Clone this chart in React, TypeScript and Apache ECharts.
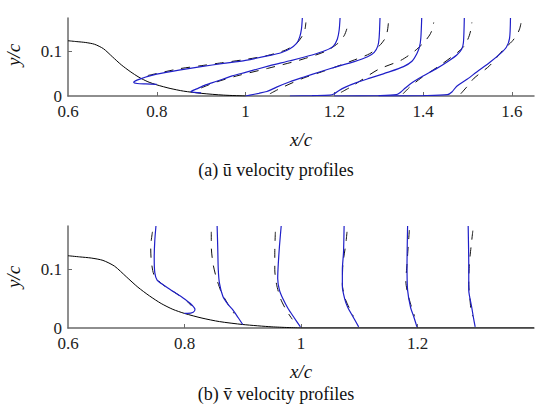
import React, { useEffect, useRef } from "react";
import * as echarts from "echarts";

// Hump surface y/c against x/c
const hump: number[][] = [
  [0.6, 0.124], [0.62, 0.122], [0.64, 0.12], [0.66, 0.116], [0.68, 0.106],
  [0.7, 0.088], [0.72, 0.07], [0.74, 0.055], [0.76, 0.042], [0.78, 0.032],
  [0.8, 0.025], [0.83, 0.017], [0.86, 0.011], [0.9, 0.006], [0.95, 0.002], [1.0, 0.0],
];
const wallDownstream: number[][] = [[1.0, 0.0], [1.4, 0.0]];

// Mean streamwise velocity profiles (offset by station), simulation
const uSim08: number[][] = [
  [0.8, 0.026], [0.775, 0.027], [0.756, 0.028], [0.748, 0.031], [0.752, 0.034],
  [0.765, 0.039], [0.78, 0.044], [0.8, 0.049], [0.85, 0.058], [0.9, 0.066],
  [0.95, 0.073], [1.0, 0.08], [1.055, 0.091], [1.08, 0.097], [1.1, 0.106],
  [1.115, 0.118], [1.122, 0.132], [1.126, 0.15], [1.128, 0.175],
];
const uSim09: number[][] = [
  [0.9, 0.007], [0.885, 0.008], [0.877, 0.01], [0.89, 0.016], [0.91, 0.025],
  [0.935, 0.033], [0.97, 0.045], [1.0, 0.053], [1.055, 0.068], [1.1, 0.079],
  [1.15, 0.092], [1.18, 0.102], [1.198, 0.112], [1.207, 0.128], [1.211, 0.148], [1.213, 0.175],
];
const uSim10: number[][] = [
  [1.0, 0.0], [1.01, 0.002], [1.03, 0.006], [1.048, 0.01], [1.07, 0.02], [1.1, 0.032],
  [1.13, 0.042], [1.17, 0.055], [1.206, 0.066], [1.245, 0.077], [1.275, 0.088],
  [1.29, 0.098], [1.298, 0.112], [1.301, 0.13], [1.303, 0.175],
];
const uSim11: number[][] = [
  [1.1, 0.0], [1.15, 0.001], [1.19, 0.002], [1.2, 0.005], [1.21, 0.012], [1.225, 0.02],
  [1.25, 0.03], [1.28, 0.04], [1.32, 0.053], [1.356, 0.066], [1.375, 0.078],
  [1.386, 0.095], [1.392, 0.11], [1.395, 0.13], [1.397, 0.175],
];
const uSim12: number[][] = [
  [1.2, 0.0], [1.3, 0.001], [1.34, 0.003], [1.35, 0.009], [1.36, 0.018], [1.375, 0.03],
  [1.4, 0.045], [1.431, 0.062], [1.455, 0.077], [1.476, 0.092], [1.487, 0.105],
  [1.491, 0.12], [1.493, 0.175],
];
const uSim13: number[][] = [
  [1.3, 0.0], [1.4, 0.001], [1.455, 0.003], [1.465, 0.009], [1.476, 0.022], [1.5, 0.038],
  [1.521, 0.054], [1.55, 0.075], [1.574, 0.095], [1.588, 0.11], [1.595, 0.13], [1.597, 0.175],
];

// Mean streamwise velocity profiles, measurement
const uExp08: number[][] = [
  [0.78, 0.046], [0.85, 0.061], [0.9, 0.068], [0.95, 0.075], [1.0, 0.082], [1.05, 0.091],
  [1.09, 0.103], [1.115, 0.118], [1.128, 0.135], [1.134, 0.15], [1.136, 0.165],
];
const uExp09: number[][] = [
  [0.9, 0.018], [0.93, 0.03], [0.98, 0.045], [1.05, 0.062], [1.12, 0.08], [1.18, 0.1],
  [1.208, 0.118], [1.222, 0.135], [1.228, 0.15], [1.23, 0.165],
];
const uExp10: number[][] = [
  [1.055, 0.005], [1.08, 0.018], [1.13, 0.04], [1.18, 0.057], [1.24, 0.079], [1.28, 0.095],
  [1.302, 0.113], [1.315, 0.13], [1.32, 0.148], [1.322, 0.165],
];
const uExp11: number[][] = [
  [1.215, 0.008], [1.24, 0.022], [1.26, 0.035], [1.3, 0.06], [1.35, 0.08], [1.38, 0.1],
  [1.402, 0.12], [1.415, 0.137], [1.421, 0.15], [1.424, 0.165],
];
const uExp12: number[][] = [
  [1.355, 0.005], [1.37, 0.02], [1.395, 0.04], [1.44, 0.07], [1.478, 0.098], [1.495, 0.115],
  [1.504, 0.135], [1.508, 0.15], [1.51, 0.165],
];
const uExp13: number[][] = [
  [1.485, 0.005], [1.5, 0.022], [1.515, 0.04], [1.55, 0.068], [1.58, 0.103], [1.6, 0.122],
  [1.612, 0.138], [1.618, 0.152], [1.621, 0.165],
];

// Mean wall-normal velocity profiles, simulation
const vSim08: number[][] = [
  [0.751, 0.175], [0.749, 0.15], [0.748, 0.12], [0.749, 0.095], [0.753, 0.082],
  [0.765, 0.073], [0.78, 0.063], [0.797, 0.052], [0.81, 0.042], [0.818, 0.032],
  [0.815, 0.027], [0.805, 0.025], [0.8, 0.025],
];
const vSim09: number[][] = [
  [0.856, 0.175], [0.857, 0.14], [0.858, 0.1], [0.86, 0.077], [0.866, 0.054],
  [0.875, 0.04], [0.883, 0.031], [0.892, 0.018], [0.9, 0.006],
];
const vSim10: number[][] = [
  [0.966, 0.175], [0.963, 0.14], [0.961, 0.11], [0.96, 0.085], [0.963, 0.065],
  [0.969, 0.05], [0.978, 0.033], [0.988, 0.018], [0.999, 0.002],
];
const vSim11: number[][] = [
  [1.074, 0.175], [1.073, 0.13], [1.071, 0.1], [1.071, 0.071], [1.075, 0.05],
  [1.08, 0.036], [1.09, 0.018], [1.099, 0.002],
];
const vSim12: number[][] = [
  [1.183, 0.175], [1.182, 0.106], [1.183, 0.065], [1.188, 0.036], [1.194, 0.018], [1.199, 0.002],
];
const vSim13: number[][] = [
  [1.287, 0.175], [1.288, 0.106], [1.288, 0.065], [1.293, 0.036], [1.296, 0.018], [1.299, 0.002],
];

// Mean wall-normal velocity profiles, measurement
const vExp08: number[][] = [
  [0.745, 0.165], [0.742, 0.14], [0.743, 0.115], [0.748, 0.09], [0.762, 0.075],
  [0.78, 0.063], [0.8, 0.05], [0.812, 0.038],
];
const vExp09: number[][] = [
  [0.846, 0.165], [0.846, 0.14], [0.849, 0.11], [0.855, 0.085], [0.863, 0.062],
  [0.874, 0.042], [0.885, 0.025],
];
const vExp10: number[][] = [
  [0.956, 0.165], [0.955, 0.13], [0.955, 0.1], [0.958, 0.075], [0.965, 0.05],
  [0.975, 0.03], [0.985, 0.015],
];
const vExp11: number[][] = [
  [1.079, 0.165], [1.077, 0.145], [1.072, 0.11], [1.071, 0.075], [1.076, 0.05],
  [1.085, 0.03], [1.09, 0.02],
];
const vExp12: number[][] = [
  [1.186, 0.168], [1.184, 0.14], [1.182, 0.11], [1.18, 0.08], [1.183, 0.06],
  [1.19, 0.035], [1.195, 0.02],
];
const vExp13: number[][] = [
  [1.295, 0.167], [1.292, 0.14], [1.289, 0.11], [1.288, 0.075], [1.29, 0.05],
  [1.292, 0.03], [1.295, 0.02],
];

// Axis ticks and labels
const uTickX = [0.8, 1, 1.2, 1.4, 1.6];
const uLabelX = [0.6, 0.8, 1, 1.2, 1.4, 1.6];
const vTickX = [0.8, 1, 1.2];
const vLabelX = [0.6, 0.8, 1, 1.2];
const tickY = [0.1];
const labelY = [0, 0.1];

const SERIF = "'Liberation Serif', 'Times New Roman', serif";
const BLUE = "#1f1fc8";
const AXIS = "#6a6a6a";

const fmt = (v: number) => String(+Number(v).toFixed(3));

function xAxisCfg(grid: number, min: number, max: number, ticks: number[], labels: number[]) {
  return {
    type: "value",
    gridIndex: grid,
    min,
    max,
    axisLine: { show: true, onZero: false, lineStyle: { color: AXIS, width: 1.5 } },
    axisTick: { show: true, inside: true, length: 4, customValues: ticks, lineStyle: { color: AXIS, width: 1 } },
    axisLabel: {
      customValues: labels, formatter: fmt, margin: 9, lineHeight: 13,
      fontFamily: SERIF, fontSize: 17, color: "#222",
    },
    splitLine: { show: false },
  };
}

function yAxisCfg(grid: number) {
  return {
    type: "value",
    gridIndex: grid,
    min: 0,
    max: 0.175,
    axisLine: { show: true, onZero: false, lineStyle: { color: AXIS, width: 1.5 } },
    axisTick: { show: true, inside: true, length: 4, customValues: tickY, lineStyle: { color: AXIS, width: 1 } },
    axisLabel: {
      customValues: labelY, formatter: fmt, margin: 6, lineHeight: 13,
      fontFamily: SERIF, fontSize: 17, color: "#222",
    },
    splitLine: { show: false },
  };
}

function line(data: number[][], grid: number, color: string, dashed: boolean, width: number) {
  return {
    type: "line",
    xAxisIndex: grid,
    yAxisIndex: grid,
    data,
    showSymbol: false,
    symbol: "none",
    smooth: 0.25,
    silent: true,
    clip: true,
    lineStyle: { color, width, type: dashed ? [9, 8] : "solid" },
  };
}

export default function App() {
  const ref = useRef<HTMLDivElement>(null);

  useEffect(() => {
    if (!ref.current) return;
    const chart = echarts.init(ref.current, undefined, { renderer: "svg" });

    const uSims = [uSim08, uSim09, uSim10, uSim11, uSim12, uSim13];
    const uExps = [uExp08, uExp09, uExp10, uExp11, uExp12, uExp13];
    const vSims = [vSim08, vSim09, vSim10, vSim11, vSim12, vSim13];
    const vExps = [vExp08, vExp09, vExp10, vExp11, vExp12, vExp13];

    const series: any[] = [
      line(hump, 0, "#000", false, 1),
      line(hump, 1, "#000", false, 1),
      line(wallDownstream, 1, "#000", false, 1.2),
      ...uExps.map((d) => line(d, 0, "#111", true, 1)),
      ...uSims.map((d) => line(d, 0, BLUE, false, 1.2)),
      ...vExps.map((d) => line(d, 1, "#111", true, 1)),
      ...vSims.map((d) => line(d, 1, BLUE, false, 1.2)),
    ];

    const txt = (x: number, y: number, text: string, opts: any = {}) => ({
      type: "text",
      x,
      y,
      rotation: opts.rotation || 0,
      style: {
        text,
        fontFamily: SERIF,
        fontSize: opts.size || 18,
        lineHeight: opts.size ? opts.size : 16,
        fontStyle: opts.italic ? "italic" : "normal",
        fill: "#111",
        align: "center",
        verticalAlign: "middle",
      },
    });

    chart.setOption({
      animation: false,
      backgroundColor: "#fff",
      grid: [
        { left: 68, right: 6, top: 18, height: 78 },
        { left: 68, right: 6, top: 226, height: 102 },
      ],
      xAxis: [
        xAxisCfg(0, 0.6, 1.65, uTickX, uLabelX),
        xAxisCfg(1, 0.6, 1.4, vTickX, vLabelX),
      ],
      yAxis: [yAxisCfg(0), yAxisCfg(1)],
      series,
      graphic: [
        txt(13, 55, "y/c", { italic: true, size: 19, rotation: Math.PI / 2 }),
        txt(301, 139, "x/c", { italic: true, size: 19 }),
        txt(276, 170, "(a) \u016B velocity profiles"),
        txt(13, 277, "y/c", { italic: true, size: 19, rotation: Math.PI / 2 }),
        txt(301, 371, "x/c", { italic: true, size: 19 }),
        txt(276, 394, "(b) v\u0304 velocity profiles"),
      ],
    });

    return () => chart.dispose();
  }, []);

  return (
    <div
      ref={ref}
      style={{ position: "absolute", left: 0, top: 0, width: 540, height: 404, background: "#fff" }}
    />
  );
}
